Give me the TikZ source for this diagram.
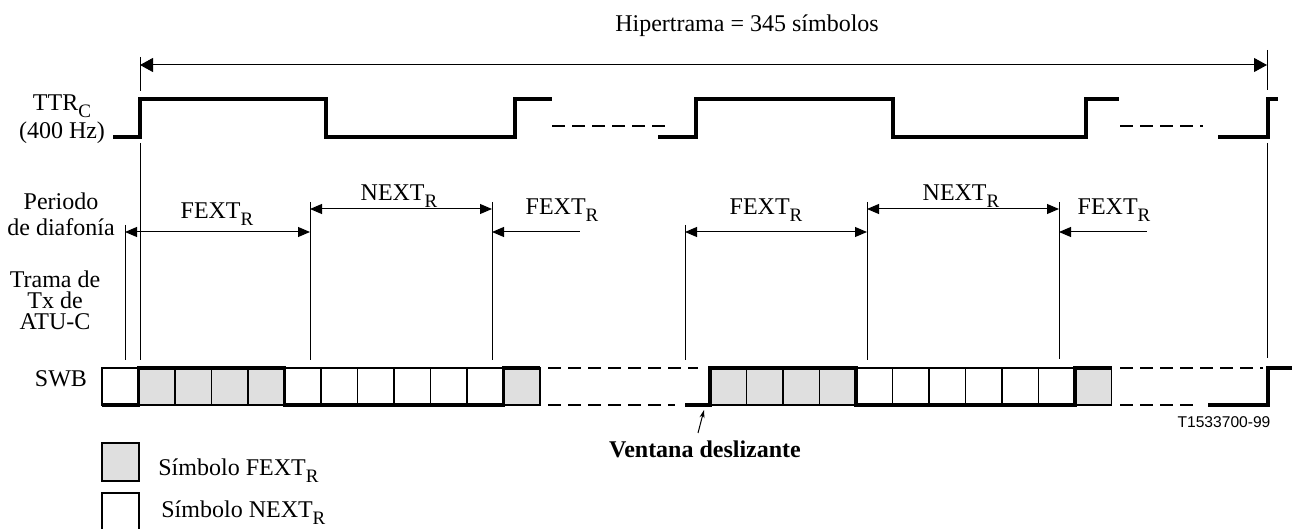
\documentclass[tikz,border=0pt]{standalone}
\usepackage{fontspec}
\setmainfont{Liberation Serif}
\newfontfamily\arialfont{Liberation Sans}
\usetikzlibrary{arrows.meta}
\newcommand\subR[1]{\raisebox{-3.5pt}{\fontsize{9.5}{9.5}\selectfont #1}}
\begin{document}
\begin{tikzpicture}[x=0.5pt,y=-0.5pt,
  every node/.style={inner sep=0pt, font=\fontsize{12}{14}\selectfont},
  lab/.style={anchor=base},
  labw/.style={anchor=base west},
  multi/.style={anchor=base, align=center},
  thinl/.style={line width=0.5pt},
  sig/.style={line width=1.7pt, line join=miter},
  dsh/.style={line width=1pt, dash pattern=on 6.5pt off 3.5pt},
  cellline/.style={line width=0.75pt},
  fextfill/.style={fill=gray!25},
  dim/.style={thinl, {Triangle[length=6pt,width=5pt]}-{Triangle[length=6pt,width=5pt]}},
  ldim/.style={thinl, {Triangle[length=6pt,width=5pt]}-},
  bigdim/.style={thinl, {Triangle[length=6.5pt,width=7pt]}-{Triangle[length=6.5pt,width=7pt]}}
]
\useasboundingbox (0,0) rectangle (1292,529);

% ---------- title and hyperframe arrow
\node[lab] (hyp) at (747,32) {Hipertrama = 345 símbolos};
\coordinate (hL) at (140,65);
\coordinate (hR) at (1267,65);
\draw[bigdim] (hL) -- (hR);
\draw[thinl] (140,57) -- (140,91);
\draw[thinl] (140,143) -- (140,360);
\draw[thinl] (1267,50) -- (1267,90);
\draw[thinl] (1267,143) -- (1267,358);

% ---------- TTR_C signal
\node[multi, font=\fontsize{12}{14}\selectfont] (ttr) at (62,139) {TTR\subR{C}\\(400 Hz)};
\draw[sig] (113,137) -- (140,137) -- (140,99) -- (326,99) -- (326,137) -- (515,137) -- (515,99) -- (552,99);
\draw[dsh] (552,126) -- (671,126);
\draw[sig] (658,137) -- (696,137) -- (696,99) -- (893,99) -- (893,137) -- (1086,137) -- (1086,99) -- (1119,99);
\draw[dsh] (1120,126) -- (1203,126);
\draw[sig] (1218,137) -- (1268,137) -- (1268,99) -- (1278,99);

% ---------- left labels
\node[multi, font=\fontsize{12}{13}\selectfont] (per) at (61,236) {Periodo\\de diafonía};
\node[multi, font=\fontsize{12}{10.7}\selectfont] (trama) at (55,330) {Trama de\\Tx de\\ATU-C};
\node[lab] (swb) at (61,387) {SWB};

% ---------- crosstalk period markers
\draw[thinl] (125,225) -- (125,360);
\draw[thinl] (310,202) -- (310,360);
\draw[thinl] (492,202) -- (492,360);
\draw[thinl] (685,225) -- (685,360);
\draw[thinl] (867,202) -- (867,360);
\draw[thinl] (1059,202) -- (1059,359);

\coordinate (f1a) at (125,232); \coordinate (f1b) at (310,232);
\coordinate (n1a) at (310,209); \coordinate (n1b) at (492,209);
\coordinate (f2a) at (492,232); \coordinate (f2b) at (580,232);
\coordinate (f3a) at (685,232); \coordinate (f3b) at (867,232);
\coordinate (n2a) at (867,209); \coordinate (n2b) at (1059,209);
\coordinate (f4a) at (1059,232); \coordinate (f4b) at (1147,232);
\draw[dim] (f1a) -- (f1b);
\draw[dim] (n1a) -- (n1b);
\draw[ldim] (f2a) -- (f2b);
\draw[dim] (f3a) -- (f3b);
\draw[dim] (n2a) -- (n2b);
\draw[ldim] (f4a) -- (f4b);

\node[lab] (lf1) at (217,219) {FEXT\subR{R}};
\node[lab] (ln1) at (399,201) {NEXT\subR{R}};
\node[lab] (lf2) at (562,215) {FEXT\subR{R}};
\node[lab] (lf3) at (766,215) {FEXT\subR{R}};
\node[lab] (ln2) at (961,201) {NEXT\subR{R}};
\node[lab] (lf4) at (1114,215) {FEXT\subR{R}};

% ---------- SWB cells, first group
\fill[fextfill] (138.5,368) rectangle (284.5,405);
\fill[fextfill] (503.5,368) rectangle (540,405);
\draw[cellline] (102,368) rectangle (540,405);
\foreach \x in {138.5,175,211.5,248,284.5,321,357.5,394,430.5,467,503.5}
  \draw[cellline] (\x,368) -- (\x,405);
\draw[sig] (102,405) -- (138.5,405) -- (138.5,368) -- (284.5,368) -- (284.5,405) -- (503.5,405) -- (503.5,368) -- (540,368);
\draw[dsh] (548,368) -- (698,368);
\draw[dsh] (548,405) -- (675,405);

% ---------- SWB cells, second group
\fill[fextfill] (710,368) rectangle (856,405);
\fill[fextfill] (1075,368) rectangle (1111.5,405);
\draw[cellline] (710,368) rectangle (1111.5,405);
\foreach \x in {746.5,783,819.5,856,892.5,929,965.5,1002,1038.5,1075}
  \draw[cellline] (\x,368) -- (\x,405);
\draw[sig] (685,405) -- (710,405) -- (710,368) -- (856,368) -- (856,405) -- (1075,405) -- (1075,368) -- (1111.5,368);
\draw[dsh] (1120,368) -- (1263,368);
\draw[dsh] (1120,405) -- (1200,405);
\draw[sig] (1208,405) -- (1268,405) -- (1268,368) -- (1292,368);

% ---------- sliding window
\node[lab, font=\fontsize{12}{14}\selectfont\bfseries] (vd) at (705,458) {Ventana deslizante};
\coordinate (vdt) at (698,433);
\coordinate (vdh) at (704,410);
\draw[thinl, -{Stealth[length=4pt,width=2.5pt]}] (vdt) -- (vdh);

\node[lab, font=\arialfont\fontsize{7.8}{9}\selectfont] (code) at (1224,428) {T1533700-99};

% ---------- legend
\draw[cellline, fextfill] (102,443) rectangle (139,481);
\draw[cellline] (102,493) rectangle (139,535);
\node[labw] (lg1) at (158,475) {Símbolo FEXT\subR{R}};
\node[labw] (lg2) at (161,517) {Símbolo NEXT\subR{R}};
\end{tikzpicture}
\end{document}
